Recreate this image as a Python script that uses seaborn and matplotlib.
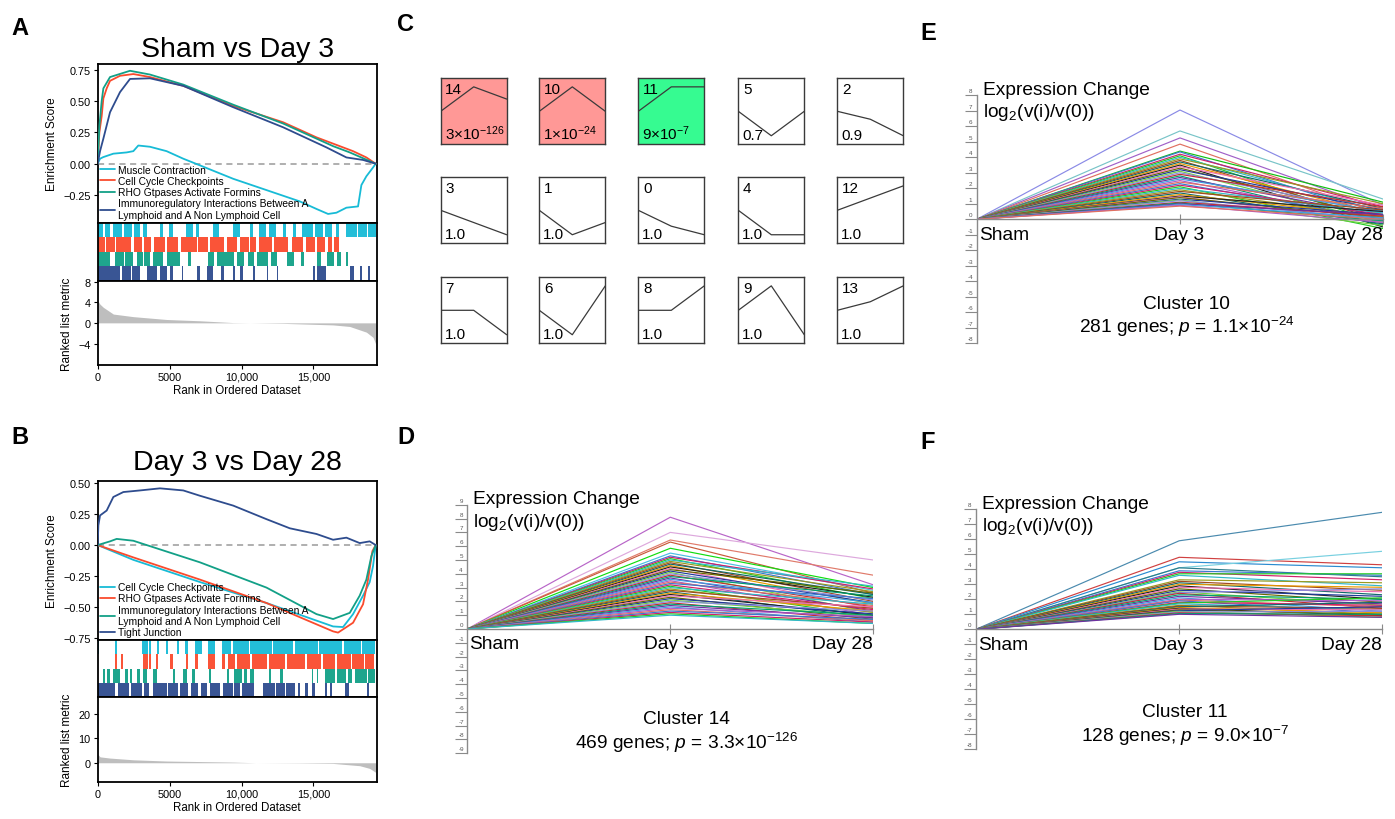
import pandas as pd
import matplotlib
matplotlib.use('Agg')
import matplotlib.pyplot as plt
import seaborn as sns


sns.set_theme(style='white')
plt.rcParams['font.family'] = 'Liberation Sans'
plt.rcParams['mathtext.fontset'] = 'custom'
plt.rcParams['mathtext.rm'] = 'Liberation Sans'
plt.rcParams['mathtext.it'] = 'Liberation Sans:italic'
plt.rcParams['axes.unicode_minus'] = True
plt.rcParams['text.color'] = 'black'
plt.rcParams['axes.labelcolor'] = 'black'
plt.rcParams['xtick.color'] = 'black'
plt.rcParams['ytick.color'] = 'black'

W, H = 1395, 820

# ---------------- GSEA panel A (Sham vs Day 3) ----------------
A_names = ['Muscle Contraction', 'Cell Cycle Checkpoints', 'RHO Gtpases Activate Formins',
           'Immunoregulatory Interactions Between A\nLymphoid and A Non Lymphoid Cell']
A_rank_1 = [0, 162, 394, 1088, 2014, 2477, 2824, 3635, 4792, 5950, 7107, 9422, 11737,
            14052, 15210, 16020, 16599, 17293, 18103, 18335, 18682, 19145, 19330]
A_es_1 = [0, 0.04, 0.053, 0.08, 0.09, 0.10, 0.145, 0.135, 0.10, 0.04, -0.013, -0.12, -0.21,
          -0.30, -0.36, -0.40, -0.39, -0.35, -0.34, -0.17, -0.10, -0.03, 0]
A_rank_2 = [0, 116, 278, 394, 625, 857, 1551, 2477, 3635, 5950, 9422, 12895, 15210, 16830,
            17756, 18682, 19330]
A_es_2 = [0, 0.25, 0.38, 0.52, 0.60, 0.66, 0.70, 0.714, 0.69, 0.62, 0.46, 0.33, 0.21, 0.14,
          0.10, 0.05, 0]
A_rank_3 = [0, 116, 278, 394, 857, 2246, 3635, 5950, 9422, 12895, 16367, 17525, 19330]
A_es_3 = [0, 0.30, 0.50, 0.60, 0.69, 0.74, 0.71, 0.63, 0.47, 0.32, 0.14, 0.09, 0]
A_rank_4 = [0, 162, 394, 857, 1551, 2246, 3635, 5950, 9422, 12895, 15904, 17293, 18451, 19330]
A_es_4 = [0, 0.10, 0.20, 0.41, 0.57, 0.675, 0.68, 0.62, 0.45, 0.29, 0.13, 0.05, 0.03, 0]

A_hits_1 = [(0, 400), (480, 860), (1090, 1700), (1800, 2400), (2500, 2940), (3180, 3400),
            (4330, 4560), (4990, 5210), (6140, 6600), (6830, 7060), (7990, 8450), (9400, 9860),
            (10560, 10790), (11250, 11710), (11940, 12400), (12860, 13090), (13560, 13780),
            (14240, 15000), (15100, 15700), (15800, 16320), (16550, 16780), (17240, 18000),
            (18100, 18700), (18800, 19330)]
A_hits_2 = [(0, 500), (600, 1200), (1300, 2300), (2500, 3100), (3250, 3700), (3900, 4700),
            (4800, 5600), (5800, 6900), (7000, 7700), (7800, 8800), (9000, 9700), (9900, 10500),
            (10600, 11000), (11200, 12100), (12250, 13200), (13500, 14300), (14500, 15100),
            (15250, 15800), (16000, 16300), (16450, 16800)]
A_hits_3 = [(0, 860), (1200, 1800), (1900, 2480), (2700, 3150), (3250, 3630), (3860, 4560),
            (4790, 5720), (6250, 6480), (7640, 8100), (8330, 9490), (9720, 10190),
            (10420, 10880), (11110, 11810), (12040, 12500), (13190, 13660), (14120, 14350),
            (15280, 15510), (15970, 16430), (16660, 16900), (17290, 17400)]
A_hits_4 = [(0, 1550), (1670, 2300), (2400, 2940), (3400, 4100), (4330, 4790), (5020, 5250),
            (5830, 5950), (6880, 7110), (7570, 8030), (8560, 8800), (9420, 9540), (9890, 10120),
            (10820, 10950), (11740, 11860), (12440, 12560), (14980, 15110), (15280, 15860),
            (17570, 17800), (18270, 18400), (18800, 18920)]

A_metric_rank = [0, 162, 394, 1088, 2477, 4792, 7107, 9422, 10580, 12895, 15210, 16367,
                 17525, 18682, 19145, 19330]
A_metric = [4.3, 3.6, 3.0, 1.7, 1.2, 0.65, 0.4, 0.05, 0.0, -0.1, -0.3, -0.4, -0.7, -1.8,
            -2.8, -4.1]

# ---------------- GSEA panel B (Day 3 vs Day 28) ----------------
B_names = ['Cell Cycle Checkpoints', 'RHO Gtpases Activate Formins',
           'Immunoregulatory Interactions Between A\nLymphoid and A Non Lymphoid Cell',
           'Tight Junction']
B_rank_1 = [0, 2477, 7107, 11737, 16367, 17062, 17756, 18451, 18914, 19145, 19330]
B_es_1 = [0, -0.12, -0.30, -0.47, -0.66, -0.665, -0.56, -0.41, -0.30, -0.17, 0]
B_rank_2 = [0, 2477, 7107, 11737, 16367, 16714, 17756, 18451, 18798, 19099, 19330]
B_es_2 = [0, -0.10, -0.28, -0.47, -0.70, -0.71, -0.63, -0.48, -0.28, -0.05, 0]
B_rank_3 = [0, 857, 1320, 2477, 3403, 7107, 11737, 15210, 16367, 17525, 18219, 18682,
            19029, 19330]
B_es_3 = [0, 0.03, 0.05, 0.035, 0.0, -0.14, -0.345, -0.56, -0.60, -0.55, -0.41, -0.28,
          -0.09, 0]
B_rank_4 = [0, 46, 162, 625, 1088, 1783, 2940, 4329, 5950, 7107, 9422, 11737, 13358, 15210,
            16367, 17293, 18219, 18914, 19330]
B_es_4 = [0, 0.16, 0.24, 0.28, 0.39, 0.43, 0.443, 0.46, 0.443, 0.40, 0.32, 0.21, 0.136,
          0.09, 0.043, 0.06, 0.016, 0.03, 0]

B_hits_1 = [(0, 90), (1200, 1340), (3050, 3500), (3600, 3700), (4150, 4250), (4740, 4880),
            (5530, 5630), (6060, 6270), (6760, 7250), (7660, 8150), (8630, 9300), (9400, 10500),
            (10600, 12100), (12200, 13600), (13700, 15300), (15400, 17000), (17100, 18300),
            (18400, 19300)]
B_hits_2 = [(1200, 1340), (1650, 1750), (3150, 3500), (3600, 3700), (4070, 4170), (5020, 5250),
            (6150, 6250), (6760, 6970), (7660, 8150), (8630, 8860), (9080, 9540), (9700, 10600),
            (10750, 11800), (11900, 13000), (13150, 14400), (14550, 15500), (15650, 16500),
            (16650, 17600), (17700, 18500), (18600, 19200)]
B_hits_3 = [(390, 510), (620, 860), (1070, 1550), (1900, 2100), (2250, 2360), (2730, 2940),
            (3170, 3400), (3850, 4120), (5250, 5370), (5950, 6200), (6550, 6760), (7750, 7850),
            (9000, 9100), (9500, 10000), (10200, 10400), (10600, 10900), (11930, 12030),
            (12660, 12870), (14900, 15000), (15250, 15350), (15800, 16500), (16650, 17300),
            (17400, 17700), (17900, 18700), (18800, 19250)]
B_hits_4 = [(0, 1200), (1400, 2200), (2300, 3080), (3200, 3600), (3850, 4810), (4900, 5600),
            (5700, 6270), (6500, 7000), (7200, 7600), (7800, 8500), (8700, 9400), (9500, 9890),
            (10000, 10900), (11500, 12300), (12400, 13000), (13100, 13700), (13900, 14100),
            (14400, 14600), (14900, 15100), (15800, 15950), (16150, 16300), (17200, 17500),
            (18750, 18850)]

B_metric_rank = [0, 162, 857, 2477, 4792, 9422, 11000, 14052, 16367, 18219, 18914, 19330]
B_metric = [3.5, 2.4, 1.9, 1.2, 0.7, 0.27, 0.0, -0.1, -0.27, -1.2, -2.3, -3.9]

# ---------------- Panel C: STEM model profiles ----------------
C_ids = [14, 10, 11, 5, 2, 3, 1, 0, 4, 12, 7, 6, 8, 9, 13]
C_mid = [2, 2, 2, -2, -0.65, -1, -2, -1.3, -2, 1, 0, -2, 0, 2, 0.7]
C_end = [1, 0, 2, 0, -2, -2, -1, -2, -2, 2, -2, 2, 2, -2, 2]
C_pvals = ['3×10$^{-126}$', '1×10$^{-24}$', '9×10$^{-7}$', '0.7', '0.9', '1.0', '1.0', '1.0',
           '1.0', '1.0', '1.0', '1.0', '1.0', '1.0', '1.0']

# ---------------- Panels D, E, F: cluster gene profiles ----------------
time_labels = ['Sham', 'Day 3', 'Day 28']

D_day3 = [8.1, 7.0, 6.45, 6.3, 5.85, 5.5, 5.3, 5.2, 5.1, 5.0, 4.9, 4.8, 4.7, 4.6, 4.5, 4.4,
          4.3, 4.2, 4.1, 4.0, 3.9, 3.8, 3.7, 3.6, 3.5, 3.4, 3.3, 3.2, 3.1, 3.0, 2.9, 2.8, 2.7,
          2.6, 2.5, 2.4, 2.3, 2.2, 2.1, 2.0, 1.9, 1.8, 1.7, 1.6, 1.5, 1.4, 1.3, 1.2, 1.1, 1.0]
D_day28 = [3.2, 5.0, 3.9, 2.6, 3.0, 2.8, 2.5, 2.9, 2.2, 3.1, 2.7, 2.0, 2.5, 1.8, 2.3, 1.5,
           2.6, 1.9, 1.2, 2.1, 1.6, 2.4, 1.3, 1.9, 1.0, 1.7, 2.2, 1.4, 0.9, 1.8, 1.2, 1.5, 0.8,
           1.3, 1.0, 1.6, 0.7, 1.1, 0.9, 1.3, 0.6, 1.0, 0.8, 0.5, 0.9, 0.6, 0.7, 0.5, 0.4, 0.4]

E_day3 = [7.05, 5.7, 5.25, 4.85, 4.4, 4.35, 4.2, 4.1, 4.0, 3.9, 3.8, 3.7, 3.6, 3.5, 3.4, 3.3,
          3.2, 3.1, 3.0, 2.9, 2.8, 2.7, 2.6, 2.5, 2.4, 2.3, 2.2, 2.1, 2.0, 1.9, 1.8, 1.7, 1.6,
          1.5, 1.45, 1.4, 1.3, 1.25, 1.2, 1.1, 1.05, 1.0, 0.95, 0.9, 0.85]
E_day28 = [0.9, 1.3, 0.6, 0.3, 1.1, 0.2, 0.8, -0.3, 0.5, 1.0, -0.1, 0.7, 0.3, -0.5, 0.9, 0.1,
           0.6, -0.2, 0.4, 0.8, -0.4, 0.2, 0.5, -0.1, 0.7, 0.0, 0.3, -0.6, 0.4, 0.1, 0.6, -0.3,
           0.2, 0.5, -0.2, 0.1, 0.3, -0.4, 0.0, 0.2, -0.1, 0.3, 0.1, -0.2, 0.0]

F_day3 = [5.9, 4.8, 4.5, 4.1, 4.1, 3.9, 3.8, 3.7, 3.6, 3.3, 3.2, 3.1, 3.0, 2.9, 2.8, 2.7, 2.6,
          2.5, 2.45, 2.4, 2.3, 2.2, 2.1, 2.0, 1.95, 1.9, 1.8, 1.75, 1.7, 1.6, 1.55, 1.5, 1.45,
          1.4, 1.35, 1.3, 1.25, 1.2, 1.15, 1.1, 1.05, 1.0]
F_day28 = [7.8, 4.3, 4.1, 5.2, 3.5, 3.6, 3.3, 3.7, 2.9, 3.1, 2.6, 2.3, 2.8, 2.0, 2.5, 1.8, 2.2,
           1.6, 2.7, 1.4, 2.0, 1.7, 1.2, 1.9, 1.5, 1.1, 1.6, 2.1, 1.3, 1.0, 1.4, 1.8, 1.1, 0.9,
           1.3, 1.0, 1.5, 0.8, 1.2, 0.9, 1.0, 0.8]

# ---------------- styles ----------------
GSEA_COLORS = ['#17BBD6', '#FA4B2D', '#12A087', '#2E4C8E']
STEM_COLORS = ['#3A78D0', '#D0206A', '#22CC22', '#30B8C8', '#9A9A20', '#A04A20', '#106A6A',
               '#E89A00', '#222222', '#F070B0', '#6A6A00', '#203A9A', '#70D040', '#8A8AE0',
               '#C03030', '#00A070', '#7030A0', '#40A0E0', '#B05CC8', '#E07060']
AXIS_GRAY = '#8A8A8A'


def rect(l, t, r, b):
    return [l / W, 1 - b / H, (r - l) / W, (b - t) / H]


def fmt_minus(v, fmt):
    return (fmt % v).replace('-', '\u2212')


def gsea_panel(fig, box, title, title_pad, names, ranks, scores, hits,
               met_rank, met_val, es_ylim, es_ticks, met_ylim, met_ticks):
    l, r, t, m1, m2, b = box
    ax_es = fig.add_axes(rect(l, t, r, m1))
    ax_bar = fig.add_axes(rect(l, m1, r, m2))
    ax_met = fig.add_axes(rect(l, m2, r, b))
    xmax = 19400

    ax_es.axhline(0, color='#9A9A9A', ls=(0, (4, 3)), lw=1.1, zorder=1)
    for name, rk, es, col in zip(names, ranks, scores, GSEA_COLORS):
        sns.lineplot(x=rk, y=es, ax=ax_es, color=col, lw=1.3, label=name,
                     sort=False, estimator=None, zorder=3)
    ax_es.set_xlim(0, xmax)
    ax_es.set_ylim(*es_ylim)
    ax_es.set_yticks(es_ticks)
    ax_es.set_yticklabels([fmt_minus(v, '%.2f') for v in es_ticks])
    ax_es.set_xticks([])
    ax_es.set_ylabel('Enrichment Score', fontsize=8.5)
    ax_es.set_xlabel('')
    ax_es.set_title(title, fontsize=20.5, pad=title_pad)
    ax_es.legend(loc='lower left', frameon=False, fontsize=7.4, handlelength=1.4,
                 handletextpad=0.35, labelspacing=0.12, borderaxespad=0.15, borderpad=0.1)

    for i, (row, col) in enumerate(zip(hits, GSEA_COLORS)):
        ax_bar.broken_barh([(s, e - s) for s, e in row], (3 - i, 1), facecolors=col,
                           edgecolor='none', alpha=0.95)
    ax_bar.set_xlim(0, xmax)
    ax_bar.set_ylim(0, 4)
    ax_bar.set_xticks([])
    ax_bar.set_yticks([])

    ax_met.fill_between(met_rank, 0, met_val, color='#BEBEBE', lw=0)
    ax_met.set_xlim(0, xmax)
    ax_met.set_ylim(*met_ylim)
    ax_met.set_yticks(met_ticks)
    ax_met.set_yticklabels([fmt_minus(v, '%d') for v in met_ticks])
    ax_met.set_xticks([0, 5000, 10000, 15000])
    ax_met.set_xticklabels(['0', '5000', '10,000', '15,000'])
    ax_met.set_ylabel('Ranked list metric', fontsize=8.5)
    ax_met.set_xlabel('Rank in Ordered Dataset', fontsize=8.3, labelpad=2)

    for ax in (ax_es, ax_bar, ax_met):
        for sp in ax.spines.values():
            sp.set_color('black')
            sp.set_linewidth(1.3)
        ax.tick_params(axis='both', labelsize=7.8, length=3, width=0.8, pad=2,
                       colors='black', left=True, bottom=True)
    ax_es.tick_params(axis='x', bottom=False)
    ax_bar.tick_params(left=False, bottom=False)


def cluster_panel(fig, box, ymax, day3, day28, lead, title, title_y, genes, genes_y, tx):
    ax = fig.add_axes(rect(*box))
    n = len(day3)
    rows = []
    for i, (a, c) in enumerate(zip(day3, day28)):
        for t, v in zip([0, 1, 2], [0, a, c]):
            rows.append(('g%d' % i, t, v))
    df = pd.DataFrame(rows, columns=['gene', 'time', 'value'])
    colors = lead + [STEM_COLORS[k % len(STEM_COLORS)] for k in range(n - len(lead))]
    sns.lineplot(data=df, x='time', y='value', hue='gene', palette=colors, legend=False,
                 lw=0.85, estimator=None, sort=False, ax=ax)
    ax.set_xlim(0, 2)
    ax.set_ylim(-ymax, ymax)
    ax.set_xlabel('')
    ax.set_ylabel('')
    ax.spines['top'].set_visible(False)
    ax.spines['right'].set_visible(False)
    ax.spines['bottom'].set_position(('data', 0))
    for k in ('left', 'bottom'):
        ax.spines[k].set_color(AXIS_GRAY)
        ax.spines[k].set_linewidth(1.0)
    ax.set_facecolor('none')

    ticks = list(range(-ymax, ymax + 1))
    ax.set_yticks(ticks)
    ax.tick_params(axis='y', left=True, length=9, width=0.8, color=AXIS_GRAY,
                   labelleft=False)
    for v in ticks:
        ax.annotate(str(v), xy=(0, v), xytext=(-4.5, 1.5), textcoords='offset points',
                    fontsize=4.5, ha='center', va='bottom', color='#555555')
    ax.set_xticks([1, 2])
    ax.tick_params(axis='x', bottom=True, direction='inout', length=7, width=0.8,
                   color=AXIS_GRAY, labelbottom=False)

    ax.annotate(time_labels[0], xy=(0, 0), xytext=(1.5, -4.5), textcoords='offset points',
                fontsize=13.8, ha='left', va='top')
    ax.annotate(time_labels[1], xy=(1, 0), xytext=(-1, -4.5), textcoords='offset points',
                fontsize=13.8, ha='center', va='top')
    ax.annotate(time_labels[2], xy=(2, 0), xytext=(0, -4.5), textcoords='offset points',
                fontsize=13.8, ha='right', va='top')
    ax.annotate('Expression Change', xy=(0, ymax), xytext=(4.3, 4.3),
                textcoords='offset points', fontsize=13.8, ha='left', va='center')
    ax.annotate('log$_2$(v(i)/v(0))', xy=(0, ymax), xytext=(4.3, -11.7),
                textcoords='offset points', fontsize=13.8, ha='left', va='center')
    ax.text(tx, title_y, title, fontsize=13.8, ha='center', va='center')
    ax.text(tx, genes_y, genes, fontsize=13.8, ha='center', va='center')
    return ax


fig = plt.figure(figsize=(W / 100, H / 100), dpi=100)

gsea_panel(fig, (97.7, 376.7, 65, 223.5, 282, 365.7), 'Sham vs Day 3', 6, A_names,
           [A_rank_1, A_rank_2, A_rank_3, A_rank_4], [A_es_1, A_es_2, A_es_3, A_es_4],
           [A_hits_1, A_hits_2, A_hits_3, A_hits_4], A_metric_rank, A_metric,
           (-0.468, 0.794), [0.75, 0.5, 0.25, 0.0, -0.25], (-8.1, 8.1), [8, 4, 0, -4])

gsea_panel(fig, (97.7, 376.7, 481.7, 641, 698.3, 782.7), 'Day 3 vs Day 28', 8.4, B_names,
           [B_rank_1, B_rank_2, B_rank_3, B_rank_4], [B_es_1, B_es_2, B_es_3, B_es_4],
           [B_hits_1, B_hits_2, B_hits_3, B_hits_4], B_metric_rank, B_metric,
           (-0.77, 0.522), [0.5, 0.25, 0.0, -0.25, -0.5, -0.75], (-7.7, 26.6), [20, 10, 0])

# panel C grid of model profiles
col_left = [440.7, 539.3, 638.3, 738.3, 837.3]
row_top = [79.3, 178.3, 278.3]
box_px = 66
fills = {14: '#FF9896', 10: '#FF9896', 11: '#36FB91'}
for k, (cid, mid, end, pv) in enumerate(zip(C_ids, C_mid, C_end, C_pvals)):
    x0 = col_left[k % 5]
    y0 = row_top[k // 5]
    ax = fig.add_axes(rect(x0, y0, x0 + box_px, y0 + box_px))
    ax.set_facecolor(fills.get(cid, 'white'))
    sns.lineplot(x=[0, 1, 2], y=[0, mid, end], ax=ax, color='#3A3A3A', lw=0.9,
                 sort=False, estimator=None)
    ax.set_xlim(0, 2)
    ax.set_ylim(-2.7, 2.7)
    ax.set_xticks([])
    ax.set_yticks([])
    for sp in ax.spines.values():
        sp.set_color('#3A3A3A')
        sp.set_linewidth(1.0)
    ax.text(0.07, 0.95, str(cid), transform=ax.transAxes, fontsize=11, ha='left', va='top')
    ax.text(0.06, 0.04, pv, transform=ax.transAxes, fontsize=11, ha='left', va='bottom')

cluster_panel(fig, (467.3, 505.8, 873.3, 754.2), 9, D_day3, D_day28,
              ['#B865C8', '#DDA8DD', '#E07A6A', '#C85A3A', '#10DD10', '#48C0E0'],
              'Cluster 14', -6.45, '469 genes; $p$ = 3.3×10$^{-126}$', -8.2, 1.08)
cluster_panel(fig, (976.7, 96.3, 1383.3, 344.3), 8, E_day3, E_day28,
              ['#8A8AE6', '#78C4C8', '#A060C8', '#E07060', '#10C010'],
              'Cluster 10', -5.46, '281 genes; $p$ = 1.1×10$^{-24}$', -6.9, 1.034)
cluster_panel(fig, (976.0, 510.3, 1382.3, 750.3), 8, F_day3, F_day28,
              ['#4A8AAE', '#D04040', '#2A8AD0', '#78D0E0', '#2A7A8A'],
              'Cluster 11', -5.5, '128 genes; $p$ = 9.0×10$^{-7}$', -7.05, 1.03)

for letter, lx, ty in [('A', 11, 17), ('B', 11, 426), ('C', 397, 13), ('D', 397, 426),
                       ('E', 920, 22), ('F', 920, 431)]:
    fig.text(lx / W, 1 - ty / H, letter, fontsize=17, fontweight='bold', ha='left', va='top')

fig.savefig('out.png', dpi=100)
